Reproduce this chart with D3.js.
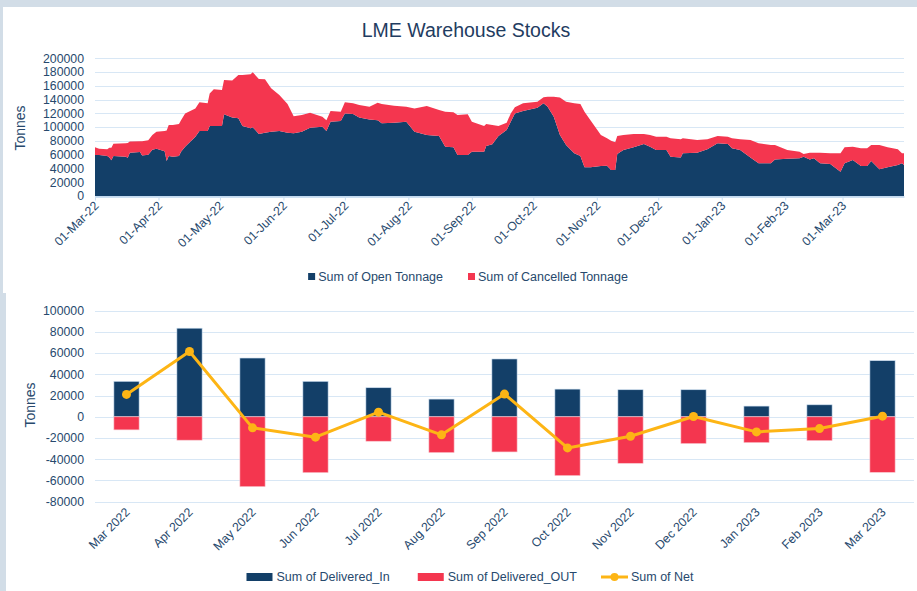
<!DOCTYPE html>
<html><head><meta charset="utf-8">
<script src="https://cdn.jsdelivr.net/npm/d3@7"></script>
<style>
html,body{margin:0;padding:0;background:#d2dde7;}
svg{display:block;font-family:"Liberation Sans",Arial,sans-serif;}
</style></head>
<body><svg id="c" width="917" height="591"></svg>
<script>
// ---------- DATA: top chart (daily warehouse stocks, sampled) ----------
const stockDates = ["2022-03-01","2022-03-03","2022-03-07","2022-03-08","2022-03-09","2022-03-10","2022-03-16","2022-03-17","2022-03-18","2022-03-23","2022-03-24","2022-03-27","2022-03-29","2022-03-31","2022-04-04","2022-04-05","2022-04-06","2022-04-08","2022-04-11","2022-04-12","2022-04-14","2022-04-19","2022-04-21","2022-04-25","2022-04-26","2022-04-28","2022-05-02","2022-05-03","2022-05-07","2022-05-10","2022-05-12","2022-05-16","2022-05-17","2022-05-20","2022-05-23","2022-05-26","2022-05-30","2022-06-03","2022-06-06","2022-06-10","2022-06-14","2022-06-20","2022-06-22","2022-06-24","2022-06-29","2022-07-01","2022-07-05","2022-07-08","2022-07-13","2022-07-17","2022-07-19","2022-07-25","2022-07-31","2022-08-04","2022-08-10","2022-08-16","2022-08-19","2022-08-23","2022-08-25","2022-08-30","2022-09-01","2022-09-07","2022-09-08","2022-09-11","2022-09-14","2022-09-18","2022-09-20","2022-09-22","2022-09-26","2022-10-03","2022-10-06","2022-10-08","2022-10-11","2022-10-14","2022-10-17","2022-10-21","2022-10-24","2022-10-26","2022-10-29","2022-11-03","2022-11-06","2022-11-08","2022-11-10","2022-11-11","2022-11-14","2022-11-19","2022-11-24","2022-11-27","2022-11-30","2022-12-05","2022-12-07","2022-12-12","2022-12-13","2022-12-20","2022-12-25","2022-12-30","2023-01-04","2023-01-06","2023-01-10","2023-01-15","2023-01-19","2023-01-25","2023-01-27","2023-02-02","2023-02-08","2023-02-10","2023-02-13","2023-02-15","2023-02-18","2023-02-23","2023-02-28","2023-03-02","2023-03-06","2023-03-10","2023-03-13","2023-03-15","2023-03-19","2023-03-23","2023-03-28","2023-03-30","2023-03-31"];
const openTonnage = [59500,59500,58000,56000,52000,58000,57000,55700,63000,64000,59000,60000,67000,68800,65000,51000,58000,57000,58000,64400,71700,86000,94400,94400,101700,101700,101700,118700,114000,113000,101700,98300,100000,90000,92000,93500,94400,92000,91000,93500,99300,100700,94400,108000,109000,120000,119000,114000,111000,110000,105600,106500,108000,93500,88600,87000,71700,70700,59500,59500,64400,64400,72600,75000,87000,95900,108000,120000,123500,128300,134600,129800,115000,88600,74000,62000,58000,41600,41600,43600,44000,37800,37800,61000,66800,70700,75500,71700,66800,66800,57000,56000,62000,63000,67800,76500,75500,69300,66800,56000,47500,47500,53000,54000,54700,57000,53000,54700,47500,46500,35400,47500,52300,43600,43600,50800,38700,41600,45000,47500,45000];
const cancelledTonnage = [11200,9200,10000,14000,18000,18000,19500,21300,16000,15400,20500,21000,21600,24700,29400,44000,45000,46000,46600,45600,48300,41000,41600,40200,47300,53300,52300,49800,53600,62800,74100,78500,79700,80000,77500,62900,52300,41700,25000,24200,21700,14300,15600,15500,13500,16000,15600,18000,18800,25600,28100,24500,21800,33500,42200,38000,50800,50900,58200,59200,43600,37300,32000,28000,14700,10600,12000,8800,11100,8700,8700,14500,29300,54300,63000,72600,75700,80900,67900,45000,39800,42600,40200,26000,21800,19300,14500,16900,19400,19400,26800,26300,21800,18400,14500,10500,10700,14500,15500,25400,29000,26500,21000,12800,9700,4000,10000,8300,15500,15500,26600,23200,19400,25700,25700,23200,35300,29100,22800,14500,17000];
const topYTicks = [0,20000,40000,60000,80000,100000,120000,140000,160000,180000,200000];

// ---------- DATA: bottom chart (monthly deliveries) ----------
const months = ["Mar 2022","Apr 2022","May 2022","Jun 2022","Jul 2022","Aug 2022","Sep 2022","Oct 2022","Nov 2022","Dec 2022","Jan 2023","Feb 2023","Mar 2023"];
const deliveredIn = [33400,83500,55400,33400,27400,16700,54500,26100,25500,25500,10100,11300,52900];
const deliveredOut = [-12300,-22000,-65800,-52600,-23000,-33700,-33100,-55400,-43800,-25200,-24300,-22400,-52300];
const netValues = [21100,61500,-10400,-19200,4400,-17000,21400,-29300,-18300,300,-14200,-11100,600];
const bottomYTicks = [-80000,-60000,-40000,-20000,0,20000,40000,60000,80000,100000];

// ---------- STYLE ----------
const NAVY = "#133f68", RED = "#f4364f", GOLD = "#fdb515";
const TXT = "#27496d", GRID = "#d8e7f5";

const svg = d3.select("#c");
// panels
svg.append("rect").attr("x",3).attr("y",7).attr("width",914).attr("height",286).attr("fill","#fff");
svg.append("rect").attr("x",6).attr("y",293).attr("width",911).attr("height",298).attr("fill","#fff");

// ===== TOP CHART =====
const parse = d3.timeParse("%Y-%m-%d");
const stock = stockDates.map((d,i)=>({date:parse(d), open:openTonnage[i], cancelled:cancelledTonnage[i]}));
const xT = d3.scaleTime().domain([parse("2022-03-01"), parse("2023-03-31")]).range([95, 904]);
const yT = d3.scaleLinear().domain([0,200000]).range([196, 58.3]);

svg.append("text").attr("x",466).attr("y",37).attr("text-anchor","middle")
  .attr("fill","#1f3c61").attr("font-size",19.5).text("LME Warehouse Stocks");

const gT = svg.append("g");
gT.selectAll(".gl").data(topYTicks).join("line")
  .attr("x1",95).attr("x2",904).attr("y1",d=>Math.round(yT(d))+0.5).attr("y2",d=>Math.round(yT(d))+0.5)
  .attr("stroke",GRID).attr("stroke-width",1.2);

const stackT = d3.stack().keys(["open","cancelled"])(stock);
const areaT = d3.area().x(d=>xT(d.data.date)).y0(d=>yT(d[0])).y1(d=>yT(d[1]));
gT.selectAll(".ar").data(stackT).join("path")
  .attr("d",areaT).attr("fill",(d,i)=>i===0?NAVY:RED);

// y axis labels
gT.selectAll(".yl").data(topYTicks).join("text")
  .attr("x",84).attr("y",d=>yT(d)).attr("dy","0.35em").attr("text-anchor","end")
  .attr("fill",TXT).attr("font-size",12.3).text(d=>String(d));
svg.append("text").attr("transform","translate(25,128) rotate(-90)").attr("text-anchor","middle")
  .attr("fill",TXT).attr("font-size",14).text("Tonnes");

// x axis
const xAxT = d3.axisBottom(xT).tickValues(d3.timeMonth.range(parse("2022-03-01"), parse("2023-03-02")))
  .tickFormat(d3.timeFormat("%d-%b-%y")).tickSize(4).tickSizeOuter(0);
const gxT = svg.append("g").attr("transform","translate(0,196.5)").call(xAxT);
gxT.select(".domain").attr("stroke","#bcd6ee").attr("stroke-width",1.5);
gxT.selectAll(".tick line").attr("stroke","#c9def1");
gxT.selectAll(".tick text").attr("fill",TXT).attr("font-size",12.3)
  .attr("font-family","\"Liberation Sans\",Arial,sans-serif")
  .attr("y",0).attr("dy",0).attr("text-anchor","end")
  .attr("transform","translate(4,10) rotate(-45)");

// legend helper
function legend(items, cx, cy){
  const g = svg.append("g");
  let x = 0;
  items.forEach(it=>{
    const ig = g.append("g").attr("transform",`translate(${x},0)`);
    if(it.type==="sq"){ ig.append("rect").attr("x",0).attr("y",-4).attr("width",7).attr("height",7).attr("fill",it.color); }
    else if(it.type==="bar"){ ig.append("rect").attr("x",0).attr("y",-4).attr("width",26).attr("height",8).attr("fill",it.color); }
    else { ig.append("line").attr("x1",0).attr("x2",27).attr("y1",0).attr("y2",0).attr("stroke",it.color).attr("stroke-width",3);
           ig.append("circle").attr("cx",13.5).attr("cy",0).attr("r",4).attr("fill",it.color); }
    const mw = it.type==="sq"?7:27;
    const t = ig.append("text").attr("x",mw+3).attr("y",0).attr("dy","0.35em").attr("fill",TXT)
      .attr("font-size",12.5).text(it.label);
    const w = mw+3+t.node().getComputedTextLength();
    x += w + it.gap;
  });
  const total = x - items[items.length-1].gap;
  g.attr("transform",`translate(${cx-total/2},${cy})`);
}
legend([{type:"sq",color:NAVY,label:"Sum of Open Tonnage",gap:25},{type:"sq",color:RED,label:"Sum of Cancelled Tonnage",gap:0}],468,277);

// ===== BOTTOM CHART =====
const xB = d3.scaleBand().domain(months).range([95,914]).padding(0);
const yB = d3.scaleLinear().domain([-80000,100000]).range([501.7,310.7]);
const bw = xB.bandwidth()*0.4;
const gB = svg.append("g");
gB.selectAll(".gl").data(bottomYTicks).join("line")
  .attr("x1",95).attr("x2",914).attr("y1",d=>Math.round(yB(d))+0.5).attr("y2",d=>Math.round(yB(d))+0.5)
  .attr("stroke",GRID).attr("stroke-width",1.2);
gB.selectAll(".yl").data(bottomYTicks).join("text")
  .attr("x",84).attr("y",d=>yB(d)).attr("dy","0.35em").attr("text-anchor","end")
  .attr("fill",TXT).attr("font-size",12.3).text(d=>String(d));
svg.append("text").attr("transform","translate(35,405) rotate(-90)").attr("text-anchor","middle")
  .attr("fill",TXT).attr("font-size",14).text("Tonnes");

gB.selectAll(".bin").data(months).join("rect")
  .attr("x",d=>xB(d)+xB.bandwidth()/2-bw/2).attr("width",bw)
  .attr("y",(d,i)=>yB(deliveredIn[i])).attr("height",(d,i)=>yB(0)-yB(deliveredIn[i]))
  .attr("fill",NAVY).attr("stroke","#c8dcef").attr("stroke-width",0.6);
gB.selectAll(".bout").data(months).join("rect")
  .attr("x",d=>xB(d)+xB.bandwidth()/2-bw/2).attr("width",bw)
  .attr("y",yB(0)).attr("height",(d,i)=>yB(deliveredOut[i])-yB(0))
  .attr("fill",RED).attr("stroke","#f9c3cb").attr("stroke-width",0.6);

const lineB = d3.line().x((d,i)=>xB(months[i])+xB.bandwidth()/2).y(d=>yB(d));
gB.append("path").datum(netValues).attr("d",lineB).attr("fill","none")
  .attr("stroke",GOLD).attr("stroke-width",3).attr("stroke-linejoin","round");
gB.selectAll(".pt").data(netValues).join("circle")
  .attr("cx",(d,i)=>xB(months[i])+xB.bandwidth()/2).attr("cy",d=>yB(d)).attr("r",4.5).attr("fill",GOLD);

const xAxB = d3.axisBottom(xB).tickSize(0);
const gxB = svg.append("g").attr("transform","translate(0,502)").call(xAxB);
gxB.select(".domain").remove();
gxB.selectAll(".tick text").attr("fill",TXT).attr("font-size",12.3)
  .attr("font-family","\"Liberation Sans\",Arial,sans-serif")
  .attr("y",0).attr("dy",0).attr("text-anchor","end")
  .attr("transform","translate(4,11) rotate(-45)");

legend([{type:"bar",color:NAVY,label:"Sum of Delivered_In",gap:28},{type:"bar",color:RED,label:"Sum of Delivered_OUT",gap:24},{type:"line",color:GOLD,label:"Sum of Net",gap:0}],470,577);
</script></body></html>
